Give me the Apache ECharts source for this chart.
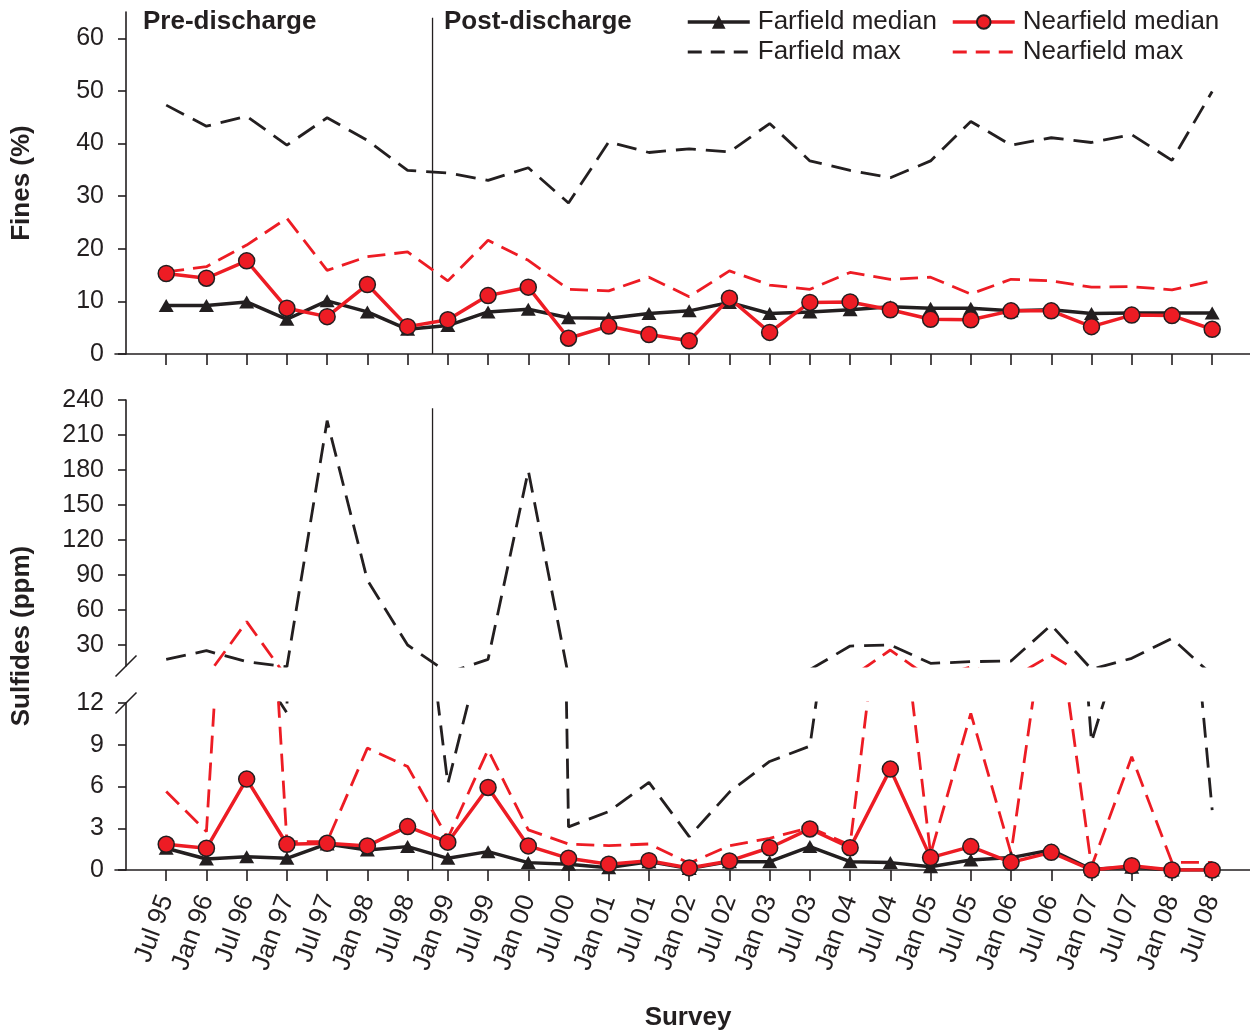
<!DOCTYPE html>
<html><head><meta charset="utf-8">
<script src="https://cdn.jsdelivr.net/npm/echarts@6/dist/echarts.min.js"></script>
<style>html,body{margin:0;padding:0;background:#fff}#c{width:1250px;height:1034px}</style>
</head><body><div id="c"></div>
<script>
const categories = ['Jul 95','Jan 96','Jul 96','Jan 97','Jul 97','Jan 98','Jul 98','Jan 99','Jul 99','Jan 00','Jul 00','Jan 01','Jul 01','Jan 02','Jul 02','Jan 03','Jul 03','Jan 04','Jul 04','Jan 05','Jul 05','Jan 06','Jul 06','Jan 07','Jul 07','Jan 08','Jul 08'];

const finesFarMedian = [9.2, 9.2, 9.9, 6.6, 10.1, 8.0, 4.7, 5.4, 8.0, 8.5, 6.9, 6.8, 7.7, 8.2, 9.8, 7.7, 8.0, 8.4, 9.0, 8.7, 8.7, 8.2, 8.4, 7.7, 7.8, 7.8, 7.8];
const finesNearMedian = [15.3, 14.4, 17.7, 8.7, 7.1, 13.2, 5.2, 6.5, 11.1, 12.7, 3.0, 5.3, 3.7, 2.5, 10.6, 4.1, 9.8, 9.9, 8.4, 6.6, 6.5, 8.2, 8.2, 5.2, 7.4, 7.3, 4.7];
const finesFarMax = [47.3, 43.3, 45.2, 39.7, 44.9, 40.6, 34.9, 34.4, 33.0, 35.4, 28.7, 40.3, 38.3, 39.0, 38.4, 43.8, 36.7, 34.9, 33.5, 36.7, 44.2, 39.7, 41.1, 40.2, 41.7, 36.8, 49.9];
const finesNearMax = [15.6, 16.6, 20.7, 25.8, 15.9, 18.5, 19.4, 13.9, 21.6, 17.8, 12.3, 12.0, 14.6, 10.9, 15.8, 13.1, 12.3, 15.5, 14.2, 14.6, 11.4, 14.2, 13.9, 12.7, 12.8, 12.2, 13.9];

const sulfFarMedian = [1.56, 0.79, 0.96, 0.84, 1.87, 1.44, 1.68, 0.84, 1.32, 0.53, 0.41, 0.17, 0.6, 0.1, 0.6, 0.6, 1.68, 0.6, 0.53, 0.24, 0.72, 0.89, 1.44, 0.05, 0.19, 0, 0];
const sulfNearMedian = [1.85, 1.56, 6.53, 1.85, 1.92, 1.73, 3.12, 2.0, 5.93, 1.73, 0.84, 0.41, 0.67, 0.15, 0.65, 1.6, 2.95, 1.6, 7.25, 0.89, 1.68, 0.55, 1.27, 0, 0.31, 0, 0];
const sulfFarMax = [17.7, 25.1, 15.7, 11.3, 222.3, 85.7, 30, 6.2, 17.7, 179.4, 3.1, 4.2, 6.3, 2.4, 5.6, 7.8, 8.9, 29.1, 30, 14.3, 15.7, 16.3, 47.1, 9.2, 18.6, 35.7, 4.3];
const sulfNearMax = [5.64, 2.76, 50, 2.04, 2.04, 8.76, 7.44, 2.28, 8.64, 2.88, 1.87, 1.75, 1.87, 0.48, 1.75, 2.28, 3.05, 1.8, 25.7, 1.15, 11.26, 1.2, 21.4, 0.24, 8.14, 0.55, 0.55];

const finesTicks = [0, 10, 20, 30, 40, 50, 60];
const sulfLowTicks = [0, 3, 6, 9, 12];
const sulfHighTicks = [30, 60, 90, 120, 150, 180, 210, 240];
const dischargeAt = 6.62;

const INK = '#231f20', RED = '#ed1c24';
const FONT = '"Liberation Sans", Arial, Helvetica, sans-serif';
const idx = categories.map((_, i) => i);
const pairs = arr => arr.map((v, i) => [i, v]);

function xAxisFor(g, labels) {
  return {
    type: 'value', gridIndex: g, min: -1.273, max: 26.94,
    axisLine: {show: g !== 1, onZero: false, lineStyle: {color: INK, width: 1.6}},
    axisTick: {show: g !== 1, customValues: idx, length: 11, lineStyle: {color: INK, width: 1.6}},
    axisLabel: labels ? {
      show: true, customValues: idx, formatter: v => categories[v] || '',
      rotate: 70, fontSize: 26, color: INK, fontFamily: FONT, margin: 26
    } : {show: false},
    splitLine: {show: false}
  };
}
function yAxisFor(g, min, max, ticks) {
  return {
    type: 'value', gridIndex: g, min: min, max: max, offset: -11,
    axisLine: {show: true, onZero: false, lineStyle: {color: INK, width: 1.6}},
    axisTick: {show: true, customValues: ticks, length: 8, lineStyle: {color: INK, width: 1.6}},
    axisLabel: {show: true, customValues: ticks, fontSize: 25, color: INK, fontFamily: FONT, margin: 22},
    splitLine: {show: false}
  };
}

function farMedian(g, data) {
  return {name: 'Farfield median', type: 'line', xAxisIndex: g, yAxisIndex: g, data: pairs(data),
    symbol: 'triangle', symbolSize: [15, 13], z: 4,
    lineStyle: {color: INK, width: 3.5}, itemStyle: {color: INK}};
}
function nearMedian(g, data) {
  return {name: 'Nearfield median', type: 'line', xAxisIndex: g, yAxisIndex: g, data: pairs(data),
    symbol: 'circle', symbolSize: 16, z: 5,
    lineStyle: {color: RED, width: 3.5}, itemStyle: {color: RED, borderColor: INK, borderWidth: 1.5}};
}
function farMax(g, data) {
  return {name: 'Farfield max', type: 'line', xAxisIndex: g, yAxisIndex: g, data: pairs(data),
    symbol: 'none', showSymbol: false, z: 2,
    lineStyle: {color: INK, width: 2.8, type: [20, 10]}, itemStyle: {color: INK}};
}
function nearMax(g, data) {
  return {name: 'Nearfield max', type: 'line', xAxisIndex: g, yAxisIndex: g, data: pairs(data),
    symbol: 'none', showSymbol: false, z: 3,
    lineStyle: {color: RED, width: 2.8, type: [18, 9]}, itemStyle: {color: RED}};
}

const legendText = {fontSize: 26, color: INK, fontFamily: FONT, padding: [0, 0, 0, 3]};
const medianItem = name => ({name: name, lineStyle: {width: 3.5}});
const maxItem = (name, dash) => ({name: name, lineStyle: {width: 2.8, type: dash}, itemStyle: {opacity: 0}});
const chart = echarts.init(document.getElementById('c'), null, {renderer: 'canvas'});
chart.setOption({
  animation: false,
  backgroundColor: '#fff',
  grid: [
    {left: 115, right: 0, top: 12, height: 342},
    {left: 115, right: 0, top: 400, height: 266},
    {left: 115, right: 0, top: 703, height: 167}
  ],
  xAxis: [xAxisFor(0, false), xAxisFor(1, false), xAxisFor(2, true)],
  yAxis: [yAxisFor(0, 0, 65, finesTicks), yAxisFor(1, 12, 240, sulfHighTicks), yAxisFor(2, 0, 12, sulfLowTicks)],
  legend: [
    {data: [medianItem('Farfield median'), maxItem('Farfield max', [14, 9])], orient: 'vertical', left: 681, top: 4,
     itemWidth: 62, itemHeight: 17, itemGap: 4, selectedMode: false, textStyle: legendText},
    {data: [medianItem('Nearfield median'), maxItem('Nearfield max', [14, 9])], orient: 'vertical', left: 946, top: 4,
     itemWidth: 62, itemHeight: 17, itemGap: 4, selectedMode: false, textStyle: legendText}
  ],
  series: [
    farMax(0, finesFarMax), nearMax(0, finesNearMax), farMedian(0, finesFarMedian), nearMedian(0, finesNearMedian),
    farMax(1, sulfFarMax), nearMax(1, sulfNearMax),
    farMax(2, sulfFarMax), nearMax(2, sulfNearMax), farMedian(2, sulfFarMedian), nearMedian(2, sulfNearMedian)
  ]
});

const p = (g, v) => chart.convertToPixel({gridIndex: g}, v);
const t0 = p(0, [dischargeAt, 63.9]), b0 = p(0, [dischargeAt, 0]);
const t1 = p(1, [dischargeAt, 233]), b2 = p(2, [dischargeAt, 0]);
const br1 = p(1, [-1, 12]), br2 = p(2, [-1, 12]);
const slash = c => ({type: 'line', silent: true, z: 10,
  shape: {x1: c[0] - 10.5, y1: c[1] + 10.5, x2: c[0] + 10.5, y2: c[1] - 10.5},
  style: {stroke: INK, lineWidth: 1.6}});
const vline = (a, b) => ({type: 'line', silent: true, z: 1,
  shape: {x1: a[0], y1: a[1], x2: b[0], y2: b[1]}, style: {stroke: INK, lineWidth: 1.3}});
const txt = (s, x, y, align, rot) => ({type: 'text', silent: true, x: x, y: y, rotation: rot || 0,
  style: {text: s, fontSize: 26, fontWeight: 'bold', fontFamily: FONT, fill: INK, align: align, verticalAlign: 'middle'}});

chart.setOption({
  graphic: [
    vline(t0, b0), vline(t1, b2), slash(br1), slash(br2),
    txt('Pre-discharge', 143, 22, 'left'),
    txt('Post-discharge', 444, 22, 'left'),
    txt('Fines (%)', 22, 183, 'center', Math.PI / 2),
    txt('Sulfides (ppm)', 22, 636, 'center', Math.PI / 2),
    txt('Survey', 688, 1018, 'center')
  ]
});
</script></body></html>
